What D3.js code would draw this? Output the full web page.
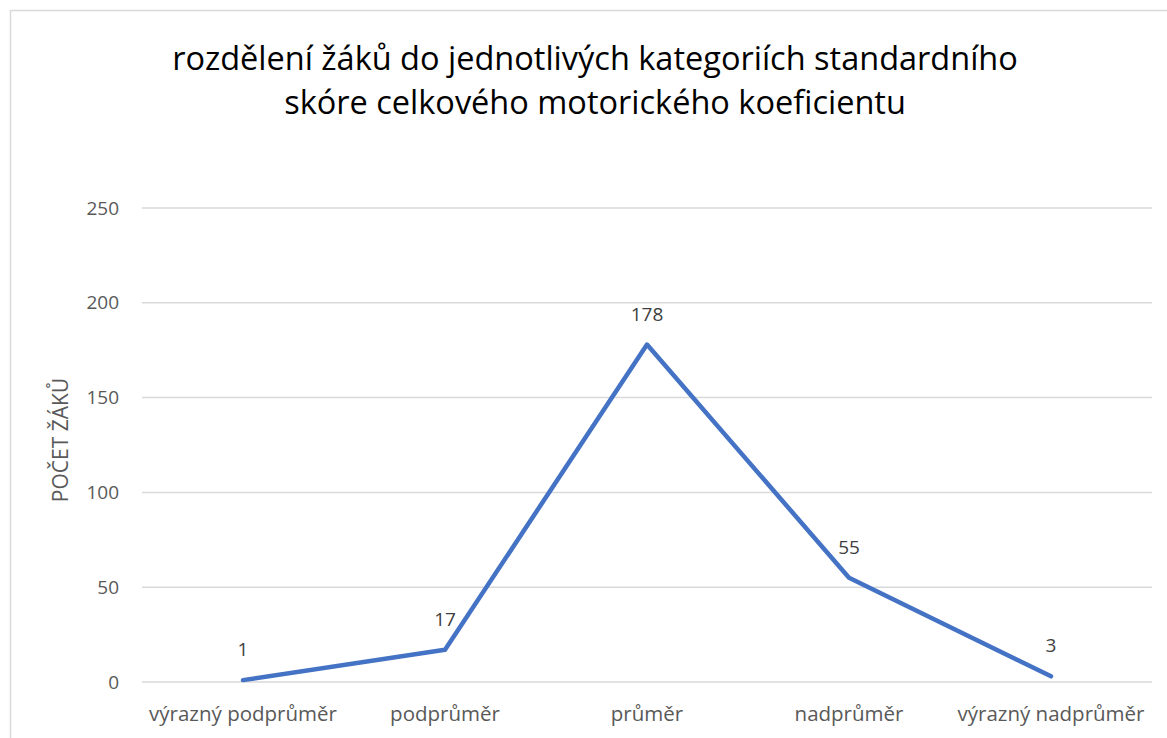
<!DOCTYPE html>
<html>
<head>
<meta charset="utf-8">
<script src="https://cdn.jsdelivr.net/npm/d3@7"></script>
<style>
  body { margin: 0; background: #fff; }
  svg { display: block; font-family: "Open Sans", "Liberation Sans", sans-serif; }
</style>
</head>
<body>
<div id="chart"></div>
<script>
// data
var categories = ["výrazný podprůměr", "podprůměr", "průměr", "nadprůměr", "výrazný nadprůměr"];
var counts = [1, 17, 178, 55, 3];
var yTicks = [0, 50, 100, 150, 200, 250];
var titleLines = ["rozdělení žáků do jednotlivých kategoriích standardního", "skóre celkového motorického koeficientu"];
var yTitle = "POČET ŽÁKŮ";

var W = 1167, H = 738;
var PLOT = { left: 142, right: 1152, top: 208, bottom: 682 };

var svg = d3.select("#chart").append("svg")
  .attr("width", W)
  .attr("height", H);

// chart frame (runs off the right/bottom edge)
svg.append("rect")
  .attr("x", 10.5).attr("y", 10.5)
  .attr("width", W + 20).attr("height", H + 20)
  .attr("fill", "none")
  .attr("stroke", "#d9d9d9")
  .attr("stroke-width", 1.5);

var x = d3.scaleBand()
  .domain(categories)
  .range([PLOT.left, PLOT.right]);

var y = d3.scaleLinear()
  .domain([0, 250])
  .range([PLOT.bottom, PLOT.top]);

// gridlines
svg.append("g").selectAll("line")
  .data(yTicks)
  .enter().append("line")
  .attr("x1", PLOT.left).attr("x2", PLOT.right)
  .attr("y1", function (d) { return y(d); })
  .attr("y2", function (d) { return y(d); })
  .attr("stroke", "#d9d9d9")
  .attr("stroke-width", 1.5);

// y axis labels
var yAxis = d3.axisLeft(y).tickValues(yTicks).tickSize(0).tickPadding(23);
var gy = svg.append("g")
  .attr("transform", "translate(" + PLOT.left + ",0)")
  .call(yAxis);
gy.select(".domain").remove();
gy.selectAll("text")
  .attr("fill", "#595959")
  .style("font-size", "19px")
  .style("font-family", "Open Sans, sans-serif");

// x axis labels
var xAxis = d3.axisBottom(x).tickSize(0).tickPadding(24);
var gx = svg.append("g")
  .attr("transform", "translate(0," + PLOT.bottom + ")")
  .call(xAxis);
gx.select(".domain").remove();
gx.selectAll("text")
  .attr("fill", "#595959")
  .style("font-size", "20.5px")
  .style("font-family", "Open Sans, sans-serif");

// line
var line = d3.line()
  .x(function (d, i) { return x(categories[i]) + x.bandwidth() / 2; })
  .y(function (d) { return y(d); });

svg.append("path")
  .datum(counts)
  .attr("d", line)
  .attr("fill", "none")
  .attr("stroke", "#4472c4")
  .attr("stroke-width", 4.5)
  .attr("stroke-linecap", "round")
  .attr("stroke-linejoin", "round");

// data labels
svg.append("g").selectAll("text")
  .data(counts)
  .enter().append("text")
  .attr("x", function (d, i) { return x(categories[i]) + x.bandwidth() / 2; })
  .attr("y", function (d) { return y(d) - 24; })
  .attr("text-anchor", "middle")
  .attr("fill", "#404040")
  .style("font-size", "19px")
  .text(function (d) { return d; });

// title
svg.append("g").selectAll("text")
  .data(titleLines)
  .enter().append("text")
  .attr("x", 595)
  .attr("y", function (d, i) { return 70 + i * 44; })
  .attr("text-anchor", "middle")
  .attr("fill", "#000")
  .style("font-size", "32.5px")
  .text(function (d) { return d; });

// y axis title
svg.append("text")
  .attr("transform", "translate(68," + 440 + ") rotate(-90)")
  .attr("text-anchor", "middle")
  .attr("fill", "#595959")
  .style("font-size", "21px")
  .text(yTitle);
</script>
</body>
</html>
